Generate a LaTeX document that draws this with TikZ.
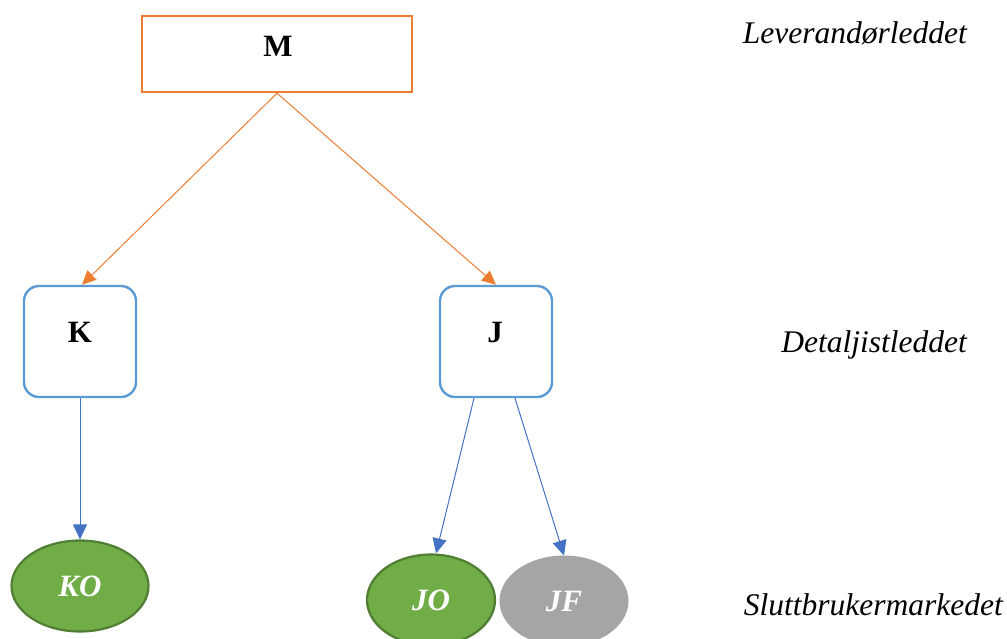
\documentclass[tikz,border=0pt]{standalone}
\usepackage{fontspec}
\setmainfont{Liberation Serif}
\usetikzlibrary{arrows.meta,shapes.geometric}
\definecolor{orng}{HTML}{ED7D31}
\definecolor{bbox}{HTML}{5B9BD5}
\definecolor{barr}{HTML}{4472C4}
\definecolor{grn}{HTML}{70AD47}
\definecolor{grnd}{HTML}{507E32}
\definecolor{gry}{HTML}{A5A5A5}
\begin{document}
\begin{tikzpicture}[x=1pt,y=-1pt,
  topbox/.style={draw=orng,line width=2.4pt,minimum width=270pt,minimum height=76pt,inner sep=0pt},
  midbox/.style={draw=bbox,line width=2.4pt,rounded corners=15pt,minimum width=112pt,minimum height=111pt,inner sep=0pt},
  greenell/.style={ellipse,fill=grn,draw=grnd,line width=2.2pt,minimum width=137pt,minimum height=91pt,inner sep=0pt,text=white,font=\fontsize{31}{34}\selectfont\bfseries\itshape},
  grayell/.style={ellipse,fill=gry,draw=gry,line width=1pt,minimum width=128pt,minimum height=90pt,inner sep=0pt,text=white,font=\fontsize{31}{34}\selectfont\bfseries\itshape},
  boldlbl/.style={font=\fontsize{31}{34}\selectfont\bfseries,inner sep=0pt},
  lvl/.style={font=\fontsize{31.5}{34}\selectfont\itshape,inner sep=0pt,anchor=east},
  oarr/.style={draw=orng,line width=1pt,-{Triangle[length=14pt,width=13pt]}},
  barrow/.style={draw=barr,line width=1pt,-{Triangle[length=15pt,width=14pt]}}
]
\useasboundingbox (0,0) rectangle (1007,638);
\node[topbox] (M) at (277,54) {};
\node[boldlbl] (Mt) at (278,46) {M};
\node[midbox] (K) at (80,341.5) {};
\node[boldlbl] (Kt) at (80,332) {K};
\node[midbox] (J) at (496,341.5) {};
\node[boldlbl] (Jt) at (495,332) {J};
\node[greenell] (KO) at (80,586) {KO};
\node[greenell,minimum width=128pt,minimum height=91pt] (JO) at (431,600) {JO};
\node[grayell] (JF) at (564,601) {JF};
\node[lvl] (L1) at (967,33) {Leverandørleddet};
\node[lvl] (L2) at (967,345) {Detaljistleddet};
\node[lvl] (L3) at (1003,605) {Sluttbrukermarkedet};
\draw[oarr] (M.south) -- ([xshift=2pt]K.north);
\draw[oarr] (M.south) -- (J.north);
\draw[barrow] (K.south) -- (KO.north);
\draw[barrow] ([xshift=-22pt]J.south) -- ([xshift=5pt]JO.north);
\draw[barrow] ([xshift=19pt]J.south) -- (JF.north);
\end{tikzpicture}
\end{document}
